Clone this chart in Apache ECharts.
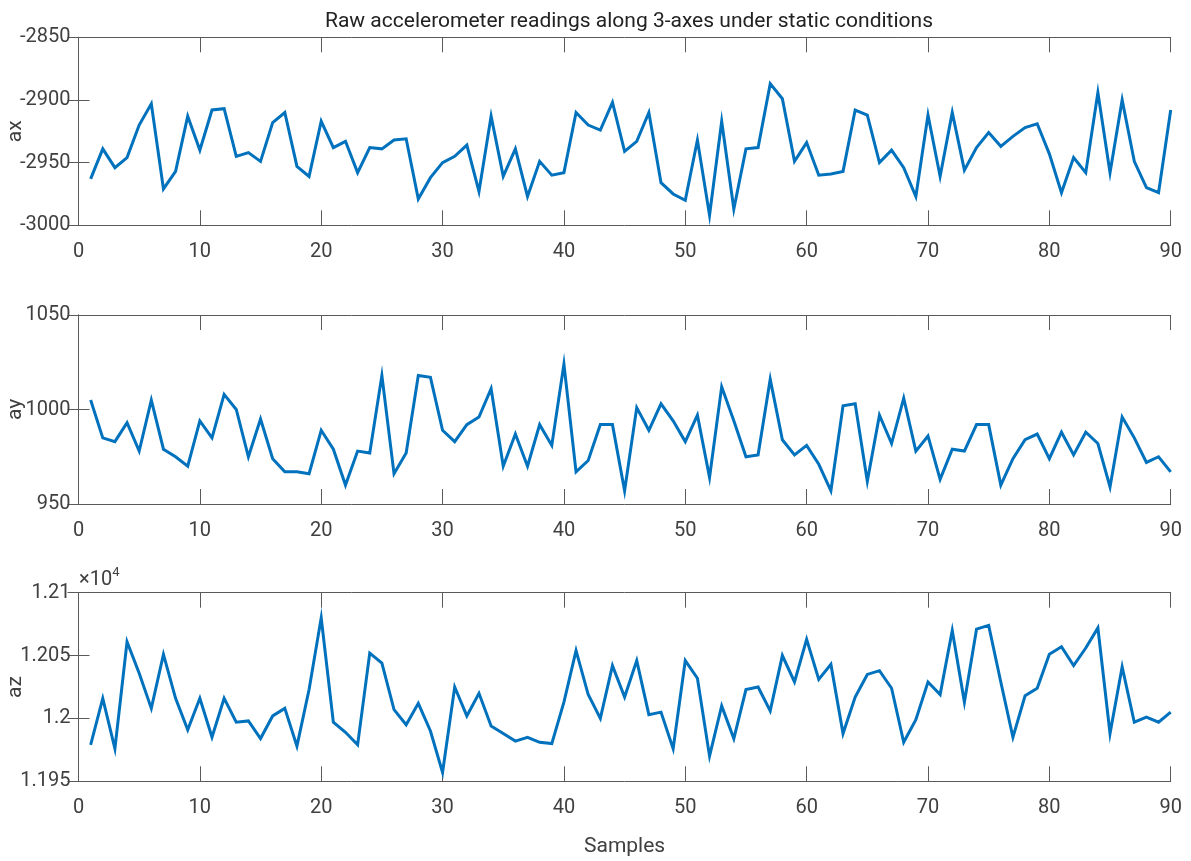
<!DOCTYPE html>
<html>
<head>
<meta charset="utf-8">
<title>Raw accelerometer readings</title>
<script src="https://cdn.jsdelivr.net/npm/echarts@6/dist/echarts.min.js"></script>
<style>
  html, body { margin: 0; padding: 0; background: #fff; }
  #chart { width: 1191px; height: 861px; }
</style>
</head>
<body>
<div id="chart"></div>
<script>
// Sample index (x axis)
const samples = Array.from({ length: 90 }, (_, i) => i + 1);
const xTicks = [0, 10, 20, 30, 40, 50, 60, 70, 80, 90];

// Raw accelerometer counts, one array per axis
const ax = [
  -2963, -2939, -2954, -2946, -2920, -2903, -2971, -2957, -2913, -2940,
  -2908, -2907, -2945, -2942, -2949, -2918, -2910, -2953, -2961, -2917,
  -2938, -2933, -2958, -2938, -2939, -2932, -2931, -2979, -2962, -2950,
  -2945, -2936, -2973, -2913, -2961, -2939, -2977, -2949, -2960, -2958,
  -2910, -2920, -2924, -2902, -2941, -2933, -2910, -2966, -2975, -2980,
  -2932, -2992, -2917, -2987, -2939, -2938, -2887, -2899, -2949, -2934,
  -2960, -2959, -2957, -2908, -2912, -2950, -2940, -2954, -2977, -2912,
  -2961, -2910, -2956, -2938, -2926, -2937, -2929, -2922, -2919, -2943,
  -2974, -2946, -2958, -2894, -2958, -2900, -2949, -2970, -2974, -2908
];
const ay = [
  1005, 985, 983, 993, 978, 1005, 979, 975, 970, 994,
  985, 1008, 1000, 975, 995, 974, 967, 967, 966, 989,
  979, 960, 978, 977, 1018, 966, 977, 1018, 1017, 989,
  983, 992, 996, 1011, 970, 987, 970, 992, 981, 1024,
  967, 973, 992, 992, 957, 1001, 989, 1003, 994, 983,
  997, 964, 1012, 994, 975, 976, 1016, 984, 976, 981,
  971, 957, 1002, 1003, 962, 997, 982, 1006, 978, 986,
  963, 979, 978, 992, 992, 960, 974, 984, 987, 974,
  988, 976, 988, 982, 959, 996, 985, 972, 975, 967
];
const az = [
  11979, 12016, 11976, 12061, 12036, 12008, 12051, 12016, 11991, 12016,
  11985, 12016, 11997, 11998, 11984, 12002, 12008, 11978, 12023, 12080,
  11997, 11989, 11979, 12052, 12044, 12007, 11995, 12012, 11990, 11957,
  12025, 12002, 12020, 11994, 11988, 11982, 11985, 11981, 11980, 12013,
  12054, 12019, 12000, 12042, 12017, 12046, 12003, 12005, 11976, 12046,
  12032, 11970, 12010, 11984, 12023, 12025, 12006, 12050, 12029, 12063,
  12031, 12043, 11988, 12017, 12035, 12038, 12024, 11981, 11999, 12029,
  12019, 12070, 12013, 12071, 12074, 12029, 11985, 12018, 12024, 12051,
  12057, 12042, 12056, 12072, 11988, 12041, 11997, 12001, 11997, 12005
];

// Y tick values for each panel
const axTicks = [-3000, -2950, -2900, -2850];
const ayTicks = [950, 1000, 1050];
const azTicks = [11950, 12000, 12050, 12100];

const panelNames = ['ax', 'ay', 'az'];
const panelData = [ax, ay, az];
const panelTicks = [axTicks, ayTicks, azTicks];

const FONT = '"Liberation Sans Narrow", Roboto, "Liberation Sans", sans-serif';
const AXIS_COLOR = '#5a5a5a';
const TEXT_COLOR = '#404040';
const LINE_COLOR = '#0072BD';

const grids = [
  { left: 78.5, right: 20.3, top: 37.3, height: 188, outerBoundsMode: 'none', containLabel: false },
  { left: 78.5, right: 20.3, top: 315, height: 189, outerBoundsMode: 'none', containLabel: false },
  { left: 78.5, right: 20.3, top: 592.7, height: 188.6, outerBoundsMode: 'none', containLabel: false }
];

const xAxes = [];
const yAxes = [];
const series = [];

panelData.forEach((vals, p) => {
  const ticks = panelTicks[p];
  const step = ticks[1] - ticks[0];
  const isLast = p === panelData.length - 1;
  // bottom x axis with labels
  xAxes.push({
    type: 'value', gridIndex: p, position: 'bottom',
    min: xTicks[0], max: xTicks[xTicks.length - 1], interval: xTicks[1] - xTicks[0],
    axisLine: { show: true, lineStyle: { color: AXIS_COLOR, width: 1 } },
    axisTick: { show: true, inside: true, length: 15, lineStyle: { color: AXIS_COLOR } },
    axisLabel: { show: true, margin: 17, color: TEXT_COLOR, fontFamily: FONT, fontSize: 20 },
    splitLine: { show: false },
    name: isLast ? 'Samples' : '',
    nameLocation: 'middle', nameGap: 55, nameMoveOverlap: false,
    nameTextStyle: { color: TEXT_COLOR, fontFamily: FONT, fontSize: 21 }
  });
  // top x axis: box edge with inner ticks
  xAxes.push({
    type: 'value', gridIndex: p, position: 'top',
    min: xTicks[0], max: xTicks[xTicks.length - 1], interval: xTicks[1] - xTicks[0],
    axisLine: { show: true, lineStyle: { color: AXIS_COLOR, width: 1 } },
    axisTick: { show: true, inside: true, length: 15, lineStyle: { color: AXIS_COLOR } },
    axisLabel: { show: false },
    splitLine: { show: false }
  });
  const yLabelFmt = p === 2
    ? (v) => String(parseFloat((v / 10000).toFixed(4)))
    : (v) => String(v);
  yAxes.push({
    type: 'value', gridIndex: p, position: 'left',
    min: ticks[0], max: ticks[ticks.length - 1], interval: step,
    axisLine: { show: true, lineStyle: { color: AXIS_COLOR, width: 1 } },
    axisTick: { show: true, inside: true, length: 11, lineStyle: { color: AXIS_COLOR } },
    axisLabel: { show: true, margin: 8, color: TEXT_COLOR, fontFamily: FONT, fontSize: 20, formatter: yLabelFmt },
    splitLine: { show: false },
    name: panelNames[p], nameLocation: 'middle', nameGap: 52, nameRotate: 90, nameMoveOverlap: false,
    nameTextStyle: { color: TEXT_COLOR, fontFamily: FONT, fontSize: 21 }
  });
  yAxes.push({
    type: 'value', gridIndex: p, position: 'right',
    min: ticks[0], max: ticks[ticks.length - 1], interval: step,
    axisLine: { show: true, lineStyle: { color: AXIS_COLOR, width: 1 } },
    axisTick: { show: true, inside: true, length: 11, lineStyle: { color: AXIS_COLOR } },
    axisLabel: { show: false },
    splitLine: { show: false }
  });
  series.push({
    type: 'line',
    xAxisIndex: p * 2, yAxisIndex: p * 2,
    data: samples.map((s, i) => [s, vals[i]]),
    showSymbol: false, symbol: 'none',
    lineStyle: { color: LINE_COLOR, width: 3, join: 'miter' },
    animation: false
  });
});

const chart = echarts.init(document.getElementById('chart'), null, { renderer: 'canvas' });
chart.setOption({
  backgroundColor: '#ffffff',
  animation: false,
  title: [
    {
      text: 'Raw accelerometer readings along 3-axes under static conditions',
      left: 624, top: 6, textAlign: 'center',
      textStyle: { color: '#222222', fontFamily: FONT, fontSize: 21, fontWeight: 'normal' }
    },
    {
      // exponent marker for the az panel
      text: '{m|×10}{s|4}',
      left: 79, top: 566, padding: 0,
      textStyle: {
        rich: {
          m: { color: TEXT_COLOR, fontFamily: FONT, fontSize: 20, fontWeight: 'normal', verticalAlign: 'bottom', lineHeight: 24 },
          s: { color: TEXT_COLOR, fontFamily: FONT, fontSize: 13, fontWeight: 'normal', verticalAlign: 'top', lineHeight: 24 }
        }
      }
    }
  ],
  grid: grids,
  xAxis: xAxes,
  yAxis: yAxes,
  series: series
});
</script>
</body>
</html>
